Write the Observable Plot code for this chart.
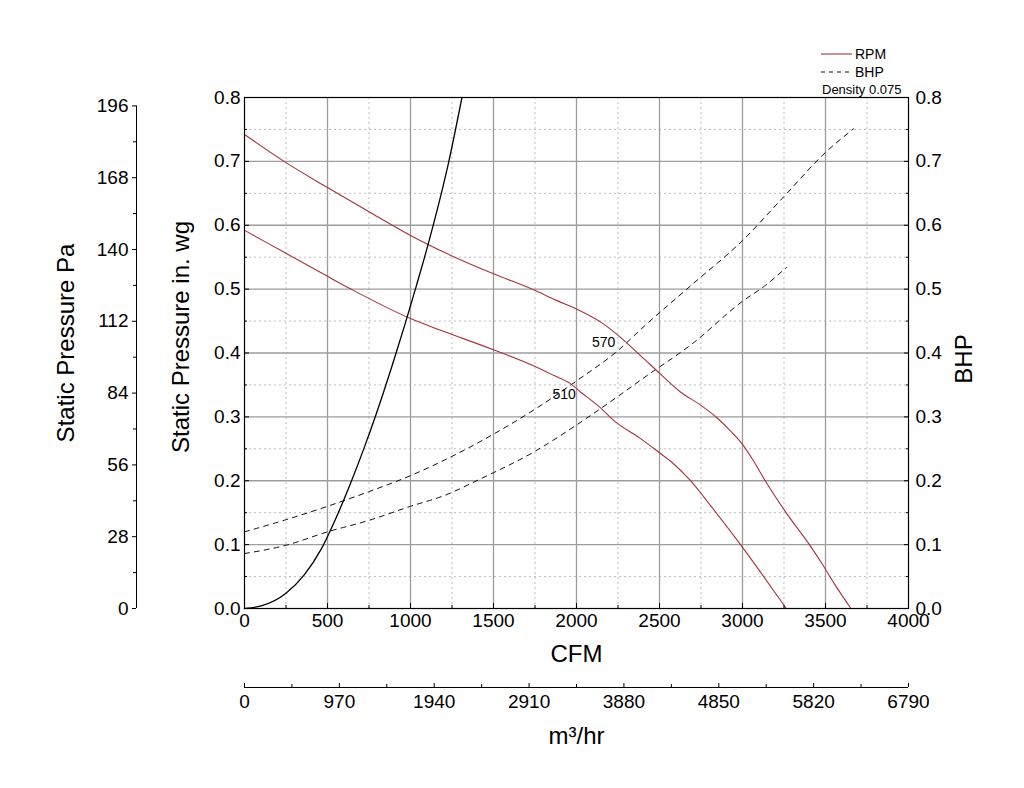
<!DOCTYPE html>
<html>
<head>
<meta charset="utf-8">
<script src="https://cdn.jsdelivr.net/npm/d3@7"></script>
<script src="https://cdn.jsdelivr.net/npm/@observablehq/plot@0.6"></script>
<style>
  html, body { margin: 0; padding: 0; background: #fff; }
  #wrap { position: relative; width: 1024px; height: 788px; font-family: "Liberation Sans", Arial, sans-serif; }
  .leg { position: absolute; font-size: 14px; color: #000; line-height: 1; white-space: nowrap; }
</style>
</head>
<body>
<div id="wrap"></div>
<script>
// ---- data ----
const cfmTicks = [0, 500, 1000, 1500, 2000, 2500, 3000, 3500, 4000];
const cfmMinor = [250, 750, 1250, 1750, 2250, 2750, 3250, 3750];
const wgTicks = [0, 0.1, 0.2, 0.3, 0.4, 0.5, 0.6, 0.7, 0.8];
const wgMinor = [0.05, 0.15, 0.25, 0.35, 0.45, 0.55, 0.65, 0.75];
const paTicks = [0, 28, 56, 84, 112, 140, 168, 196];
const paMinor = [14, 42, 70, 98, 126, 154, 182];
const m3Ticks = [0, 970, 1940, 2910, 3880, 4850, 5820, 6790];
const m3Minor = [485, 1455, 2425, 3395, 4365, 5335, 6305];
const PA_PER_INWG = 249.09;
const M3_PER_CFM = 6790 / 4000;

const rpm570 = [[0,0.742],[250,0.698],[500,0.659],[750,0.621],[1000,0.584],[1250,0.552],[1500,0.524],[1741,0.499],[1883,0.482],[2000,0.469],[2160,0.446],[2240,0.43],[2386,0.396],[2506,0.367],[2626,0.339],[2750,0.318],[2844,0.299],[2924,0.279],[3000,0.257],[3064,0.232],[3137,0.2],[3257,0.152],[3403,0.1],[3487,0.067],[3553,0.039],[3653,0]];
const rpm510 = [[0,0.592],[250,0.556],[500,0.52],[649,0.499],[1000,0.454],[1178,0.436],[1500,0.405],[1741,0.38],[1862,0.365],[1963,0.352],[2024,0.339],[2145,0.314],[2225,0.294],[2386,0.266],[2494,0.245],[2574,0.229],[2684,0.201],[2814,0.159],[2988,0.1],[3114,0.055],[3264,0]];
const bhp570 = [[0,0.12],[250,0.139],[500,0.16],[750,0.183],[1000,0.208],[1178,0.229],[1500,0.273],[1756,0.313],[2004,0.357],[2255,0.405],[2400,0.44],[2700,0.508],[3000,0.576],[3250,0.645],[3500,0.714],[3669,0.751]];
const bhp510 = [[0,0.086],[250,0.099],[500,0.12],[750,0.138],[1000,0.16],[1205,0.177],[1422,0.203],[1756,0.247],[2004,0.288],[2255,0.333],[2394,0.359],[2700,0.415],[3000,0.481],[3134,0.505],[3265,0.534]];
const system = [[0,0],[100,0.004],[250,0.024],[361,0.053],[462,0.093],[562,0.148],[642,0.198],[723,0.253],[793,0.304],[900,0.389],[1034,0.504],[1106,0.57],[1231,0.7],[1310,0.8]];
const curveLabels = [{cfm: 2163, wg: 0.417, text: "570"}, {cfm: 1925, wg: 0.335, text: "510"}];

const toRows = (arr, name) => arr.map(([cfm, wg]) => ({cfm, wg, name}));
const red = "#a3343c";
const font = "Liberation Sans, Arial, sans-serif";
const TICK_FS = 19;

const chart = Plot.plot({
  width: 1024,
  height: 788,
  marginLeft: 244,
  marginRight: 116,
  marginTop: 97,
  marginBottom: 180,
  x: {domain: [0, 4000]},
  y: {domain: [0, 0.8]},
  style: {fontFamily: font, fontSize: "18px", background: "#fff", color: "#000", overflow: "visible"},
  marks: [
    // grid
    Plot.ruleX(cfmMinor, {stroke: "#bdbdbd", strokeDasharray: "2,3"}),
    Plot.ruleY(wgMinor, {stroke: "#bdbdbd", strokeDasharray: "2,3"}),
    Plot.ruleX(cfmTicks.slice(1, -1), {stroke: "#9c9c9c", strokeWidth: 1.3}),
    Plot.ruleY(wgTicks.slice(1, -1), {stroke: "#9c9c9c", strokeWidth: 1.3}),
    // curves
    Plot.line(toRows(bhp570, "bhp570"), {x: "cfm", y: "wg", stroke: "#111", strokeWidth: 1, strokeDasharray: "5,5", curve: "monotone-x"}),
    Plot.line(toRows(bhp510, "bhp510"), {x: "cfm", y: "wg", stroke: "#111", strokeWidth: 1, strokeDasharray: "5,5", curve: "monotone-x"}),
    Plot.line(toRows(rpm570, "rpm570"), {x: "cfm", y: "wg", stroke: red, strokeWidth: 1.1, curve: "monotone-x"}),
    Plot.line(toRows(rpm510, "rpm510"), {x: "cfm", y: "wg", stroke: red, strokeWidth: 1.1, curve: "monotone-x"}),
    Plot.line(toRows(system, "system"), {x: "cfm", y: "wg", stroke: "#000", strokeWidth: 1.3, curve: "monotone-x"}),
    Plot.text(curveLabels, {x: "cfm", y: "wg", text: "text", fontSize: 14, fill: "#000"}),
    // frame
    Plot.frame({stroke: "#000", strokeWidth: 1.2}),
    // main axes (inward ticks)
    Plot.axisX({anchor: "bottom", ticks: cfmTicks, tickSize: -5, tickPadding: 10, tickFormat: d => String(d), label: null, fontSize: TICK_FS}),
    Plot.axisX({anchor: "bottom", ticks: cfmMinor, tickSize: -3, tickFormat: () => "", label: null}),
    Plot.axisY({anchor: "left", ticks: wgTicks, tickSize: -5, tickPadding: 9, tickFormat: d => d.toFixed(1), label: null, fontSize: TICK_FS}),
    Plot.axisY({anchor: "left", ticks: wgMinor, tickSize: -3, tickFormat: () => "", label: null}),
    Plot.axisY({anchor: "right", ticks: wgTicks, tickSize: -5, tickPadding: 12, tickFormat: d => d.toFixed(1), label: null, fontSize: TICK_FS}),
    Plot.axisY({anchor: "right", ticks: wgMinor, tickSize: -3, tickFormat: () => "", label: null}),
    // Pa axis (left, offset)
    Plot.ruleX([0], {y1: paTicks[0] / PA_PER_INWG, y2: paTicks[paTicks.length - 1] / PA_PER_INWG, dx: -108, stroke: "#000"}),
    Plot.axisY({anchor: "left", ticks: paTicks.map(p => p / PA_PER_INWG), tickSize: 4, tickPadding: 4, dx: -108, tickFormat: d => String(Math.round(d * PA_PER_INWG)), label: null, fontSize: TICK_FS}),
    Plot.axisY({anchor: "left", ticks: paMinor.map(p => p / PA_PER_INWG), tickSize: 3, dx: -108, tickFormat: () => "", label: null}),
    // m3/hr axis (bottom, offset)
    Plot.ruleY([0], {x1: 0, x2: 4000, dy: 79, stroke: "#000"}),
    Plot.axisX({anchor: "bottom", ticks: m3Ticks.map(m => m / M3_PER_CFM), tickSize: -4, tickPadding: 11, dy: 79, tickFormat: d => String(Math.round(d * M3_PER_CFM)), label: null, fontSize: TICK_FS}),
    Plot.axisX({anchor: "bottom", ticks: m3Minor.map(m => m / M3_PER_CFM), tickSize: -3, dy: 79, tickFormat: () => "", label: null}),
    // axis titles
    Plot.text(["CFM"], {frameAnchor: "bottom", dy: 53, fontSize: 24, text: d => d}),
    Plot.text(["m³/hr"], {frameAnchor: "bottom", dy: 135, fontSize: 24, text: d => d}),
    Plot.text(["BHP"], {frameAnchor: "right", textAnchor: "middle", dx: 56, dy: 6, rotate: -90, fontSize: 24, text: d => d}),
    Plot.text(["Static Pressure in. wg"], {frameAnchor: "left", textAnchor: "middle", dx: -63, dy: -16, rotate: -90, fontSize: 24, text: d => d}),
    Plot.text(["Static Pressure Pa"], {frameAnchor: "left", textAnchor: "middle", dx: -178, dy: -10, rotate: -90, fontSize: 24, text: d => d})
  ]
});

const wrap = document.getElementById("wrap");
wrap.appendChild(chart);

// legend (above the plot area)
const legendItems = [
  {label: "RPM", color: red, dash: null, top: 46},
  {label: "BHP", color: "#111", dash: "4,4", top: 64}
];
for (const it of legendItems) {
  const d = document.createElement("div");
  d.className = "leg";
  d.style.left = "821px";
  d.style.top = it.top + "px";
  d.innerHTML = `<svg width="31" height="14" style="vertical-align:middle;margin-right:3px"><line x1="0" x2="31" y1="7" y2="7" stroke="${it.color}" stroke-width="1.1" ${it.dash ? `stroke-dasharray="${it.dash}"` : ""}/></svg><span style="vertical-align:middle">${it.label}</span>`;
  wrap.appendChild(d);
}
const dens = document.createElement("div");
dens.className = "leg";
dens.style.left = "822px";
dens.style.top = "83px";
dens.style.fontSize = "13px";
dens.textContent = "Density 0.075";
wrap.appendChild(dens);
</script>
</body>
</html>
